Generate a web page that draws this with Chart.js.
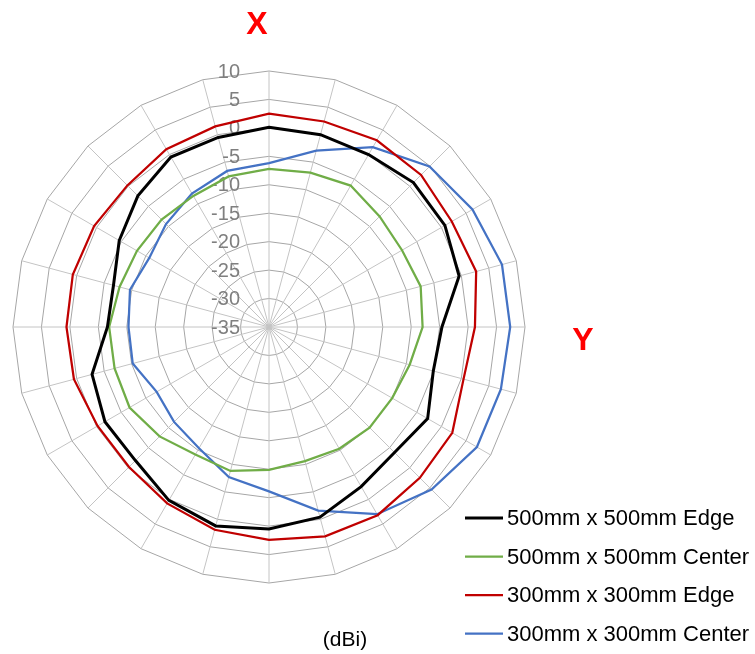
<!DOCTYPE html>
<html lang="en">
<head>
<meta charset="UTF-8">
<title>Radiation Pattern (dBi)</title>
<script src="https://cdn.jsdelivr.net/npm/chart.js"></script>
<style>
  body { margin: 0; background: #fff; }
  canvas { display: block; }
</style>
</head>
<body>
<canvas id="patternChart" width="755" height="654"></canvas>
<script>
// angle (deg, clockwise from X) and gain values in dBi
const angles = [0, 15, 30, 45, 60, 75, 90, 105, 120, 135, 150, 165,
                180, 195, 210, 225, 240, 255, 270, 285, 300, 315, 330, 345];
const edge500 = [0.1, 0.0, 0.0, 0.9, 0.7, -0.4, -4.6, -5.1, -2.8, -3.8, -2.6, -0.4,
                 0.5, 1.2, 0.2, -1.8, -1.7, -2.8, -6.6, -6.7, -4.6, -2.4, -0.5, -0.5];
const center500 = [-7.2, -6.9, -6.3, -7.5, -8.0, -7.4, -8.0, -9.4, -10.0, -10.0, -10.3, -10.6,
                   -9.9, -8.8, -9.1, -7.8, -6.7, -6.9, -6.9, -7.8, -8.2, -8.3, -8.4, -7.6];
const edge300 = [2.5, 2.4, 2.9, 2.8, 2.1, 2.7, 1.2, 0.4, 2.2, 2.5, 3.2, 3.1,
                 2.4, 1.9, 0.8, -0.2, -0.2, 0.5, 0.6, 0.7, 0.5, 0.2, 1.1, 1.5];
const center300 = [-6.2, -2.9, 1.5, 4.9, 6.3, 7.4, 7.4, 7.2, 7.2, 5.4, 3.0, -1.6,
                   -6.1, -7.7, -10.4, -11.4, -12.2, -10.2, -10.3, -9.7, -10.7, -9.4, -7.9, -6.6];
const ringTicks = [-35, -30, -25, -20, -15, -10, -5, 0, 5, 10];

const FONT = 'Arial, "Liberation Sans", sans-serif';

const tickLabels = {
    id: 'tickLabels',
    beforeDatasetsDraw(chart) {
        const s = chart.scales.r;
        const ctx = chart.ctx;
        ctx.save();
        ctx.font = '20px ' + FONT;
        ctx.fillStyle = '#7f7f7f';
        ctx.textAlign = 'right';
        ctx.textBaseline = 'middle';
        s.ticks.forEach(t => {
            const d = s.getDistanceFromCenterForValue(t.value);
            ctx.fillText(t.label, s.xCenter - 29, s.yCenter - d + 1);
        });
        ctx.restore();
    }
};

const annotations = {
    id: 'annotations',
    afterDraw(chart) {
        const ctx = chart.ctx;
        const s = chart.scales.r;
        ctx.save();
        ctx.textBaseline = 'middle';
        ctx.textAlign = 'center';
        ctx.fillStyle = '#ff0000';
        ctx.font = 'bold 32px ' + FONT;
        ctx.fillText('X', s.xCenter - 12, 25);
        ctx.fillText('Y', 583, s.yCenter + 14);
        ctx.fillStyle = '#000';
        ctx.font = '21px ' + FONT;
        ctx.fillText('(dBi)', 345, 640);

        // legend
        ctx.textAlign = 'left';
        ctx.font = '22px ' + FONT;
        chart.data.datasets.forEach((ds, i) => {
            const y = 518 + i * 38.5;
            ctx.strokeStyle = ds.borderColor;
            ctx.lineWidth = ds.borderWidth;
            ctx.beginPath();
            ctx.moveTo(465, y);
            ctx.lineTo(503, y);
            ctx.stroke();
            ctx.fillStyle = '#000';
            ctx.fillText(ds.label, 507, y + 1);
        });
        ctx.restore();
    }
};

new Chart(document.getElementById('patternChart'), {
    type: 'radar',
    data: {
        labels: angles,
        datasets: [
            { label: '500mm x 500mm Edge', data: edge500, borderColor: '#000000', borderWidth: 3 },
            { label: '500mm x 500mm Center', data: center500, borderColor: '#70ad47', borderWidth: 2.25 },
            { label: '300mm x 300mm Edge', data: edge300, borderColor: '#c00000', borderWidth: 2.25 },
            { label: '300mm x 300mm Center', data: center300, borderColor: '#4472c4', borderWidth: 2.25 }
        ]
    },
    options: {
        responsive: false,
        animation: false,
        layout: { padding: { left: 13, right: 230, top: 71, bottom: 71 } },
        elements: {
            line: { tension: 0, fill: false },
            point: { radius: 0, hoverRadius: 0 }
        },
        plugins: {
            legend: { display: false },
            tooltip: { enabled: false }
        },
        scales: {
            r: {
                min: ringTicks[0],
                max: ringTicks[ringTicks.length - 1],
                ticks: { stepSize: ringTicks[1] - ringTicks[0], display: false },
                grid: { circular: false, color: '#a6a6a6', lineWidth: 1 },
                angleLines: { display: true, color: '#c4c4c4', lineWidth: 1 },
                pointLabels: { display: false }
            }
        }
    },
    plugins: [tickLabels, annotations]
});
</script>
</body>
</html>
